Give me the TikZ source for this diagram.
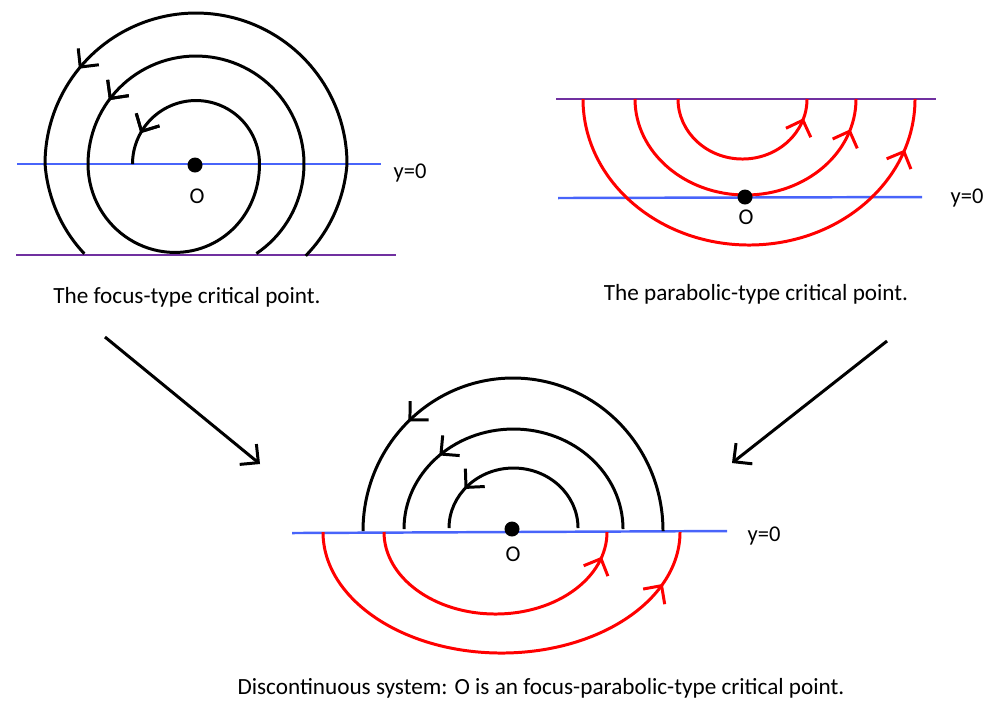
\documentclass[tikz,border=0pt]{standalone}
\usepackage{fontspec}
\setmainfont{Carlito}
\usepackage{xcolor}
\usepackage{tikz}
\usetikzlibrary{arrows.meta,decorations.markings}
\definecolor{axisblue}{RGB}{72,100,250}
\definecolor{wallpurple}{RGB}{112,48,160}

\begin{document}
\begin{tikzpicture}[
  orbit/.style={line width=0.85pt},
  midtip/.style={postaction={decorate},
    decoration={markings, mark=at position #1 with {\arrow{Straight Barb[length=3.8pt,width=7.5pt,line width=0.85pt]}}}},
  yline/.style={line width=0.7pt, axisblue},
  wline/.style={line width=0.8pt, wallpurple},
  critdot/.style={circle, fill, inner sep=0pt, minimum size=0.15cm},
  lab/.style={inner sep=0pt, font=\fontsize{6.4}{7.5}\selectfont},
  captext/.style={font=\fontsize{6.6}{8}\selectfont}]
\useasboundingbox (0,0) rectangle (9.97,-7.00);

% focus-type (top left)
\draw[yline] (0.17,-1.64) -- (3.81,-1.64);
\draw[wline] (0.16,-2.55) -- (3.96,-2.55);
\begin{scope}[shift={(1.96,-1.64)}]
\draw[orbit, midtip=0.70] plot[domain=-39.9:218.8, samples=120, variable=\t]
  (\t:{1.51-0.002*(max(0,-\t)+max(0,\t-180))});
\draw[orbit, midtip=0.41, midtip=0.965] plot[domain=-56:540, samples=200, variable=\t]
  (\t:{0.635+0.2225*(1+cos(min(max(\t-180,0),180)))});
\end{scope}
\node[critdot] (oF) at (1.95,-1.65) {};
\node[lab] (oFl) at (1.97,-1.96) {O};
\node[lab, anchor=west] (yF) at (3.93,-1.73) {y=0};
\node[captext] (capF) at (1.87,-2.97) {The focus-type critical point.};

% parabolic-type (top right)
\draw[wline] (5.56,-0.99) -- (9.36,-0.99);
\draw[yline] (5.58,-1.98) -- (9.22,-1.97);
\draw[orbit, red, midtip=0.90] (6.78,-0.99) arc[start angle=180, end angle=360, x radius=0.645, y radius=0.60];
\draw[orbit, red, midtip=0.905] (6.35,-0.99) arc[start angle=180, end angle=360, x radius=1.105, y radius=0.96];
\draw[orbit, red, midtip=0.894] (5.83,-0.99) arc[start angle=180, end angle=360, x radius=1.66, y radius=1.46];
\node[critdot] (oP) at (7.45,-1.97) {};
\node[lab] (oPl) at (7.46,-2.17) {O};
\node[lab, anchor=west] (yP) at (9.50,-1.98) {y=0};
\node[captext] (capP) at (7.56,-2.94) {The parabolic-type critical point.};

% both together (bottom)
\draw[yline] (2.92,-5.33) -- (7.27,-5.31);
\draw[orbit, midtip=0.78] (5.78,-5.28) arc[start angle=0, end angle=180, x radius=0.645, y radius=0.60];
\draw[orbit, midtip=0.744] (6.23,-5.29) arc[start angle=0, end angle=180, x radius=1.095, y radius=1.00];
\draw[orbit, midtip=0.744] (6.63,-5.31) arc[start angle=0, end angle=180, x radius=1.50, y radius=1.53];
\draw[orbit, red, midtip=0.917] (3.84,-5.32) arc[start angle=180, end angle=360, x radius=1.115, y radius=0.82];
\draw[orbit, red, midtip=0.883] (3.23,-5.32) arc[start angle=180, end angle=360, x radius=1.785, y radius=1.21];
\node[critdot] (oD) at (5.12,-5.29) {};
\node[lab] (oDl) at (5.13,-5.54) {O};
\node[lab, anchor=west] (yD) at (7.47,-5.36) {y=0};
\node[captext] (capD) at (5.41,-6.88) {Discontinuous system: O is an focus-parabolic-type critical point.};

% arrows to the combined picture
\coordinate (fromF) at (1.05,-3.37);
\coordinate (toF) at (2.60,-4.64);
\coordinate (fromP) at (8.87,-3.41);
\coordinate (toP) at (7.32,-4.63);
\draw[orbit, -{Straight Barb[length=3.8pt,width=7.5pt]}] (fromF) -- (toF);
\draw[orbit, -{Straight Barb[length=3.8pt,width=7.5pt]}] (fromP) -- (toP);
\end{tikzpicture}
\end{document}
